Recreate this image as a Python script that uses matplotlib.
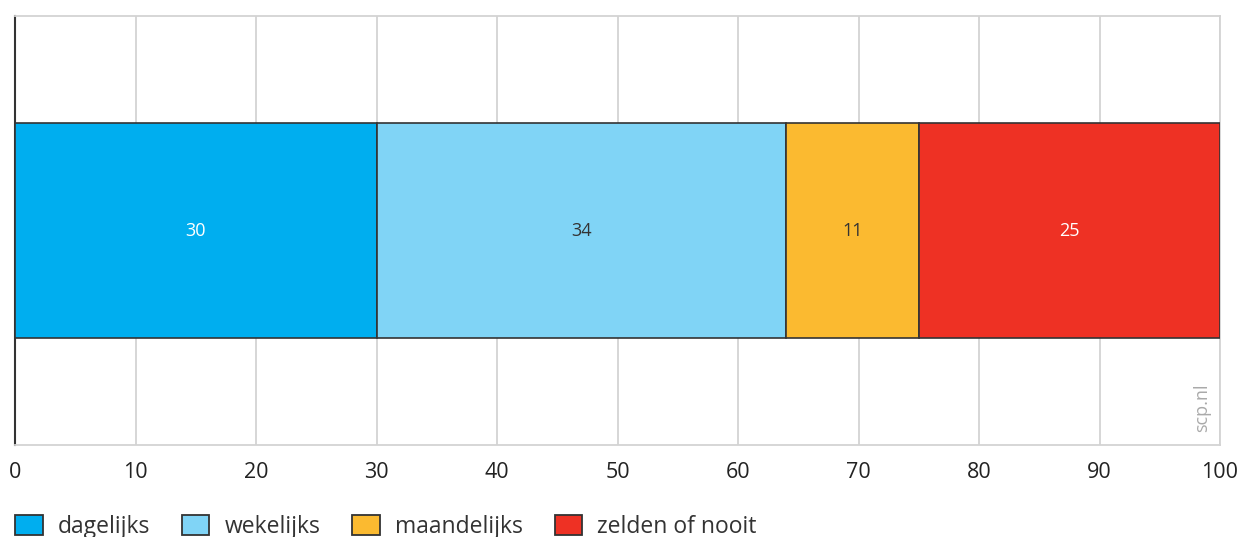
import matplotlib.pyplot as plt
from matplotlib.patches import Patch

categories = ['dagelijks', 'wekelijks', 'maandelijks', 'zelden of nooit']
values = [30, 34, 11, 25]
colors = ['#00AEEF', '#80D4F6', '#FBBA30', '#EE3124']
label_colors = ['white', '#333333', '#333333', 'white']
xticks = [0, 10, 20, 30, 40, 50, 60, 70, 80, 90, 100]

plt.rcParams['font.family'] = ['Open Sans', 'DejaVu Sans']

fig = plt.figure(figsize=(12.37, 5.37), dpi=100)
ax = fig.add_axes([15 / 1237, 1 - 445 / 537, 1205 / 1237, 429 / 537])

# stacked horizontal bar
left = 0
for cat, val, col, lc in zip(categories, values, colors, label_colors):
    ax.barh(0, val, left=left, height=1, color=col, edgecolor='#333333',
            linewidth=1.2, zorder=3)
    ax.text(left + val / 2, 0, str(val), ha='center', va='center',
            color=lc, fontsize=13, zorder=4)
    left += val

ax.set_xlim(0, 100)
ax.set_ylim(-1, 1)
ax.set_xticks(xticks)
ax.set_xticklabels([str(t) for t in xticks], fontsize=15.5, color='#222222')
ax.set_yticks([])
ax.tick_params(axis='x', length=0, pad=12)
ax.grid(axis='x', color='#d3d3d3', linewidth=1.3, zorder=0)

for s in ['top', 'right', 'bottom']:
    ax.spines[s].set_color('#d3d3d3')
    ax.spines[s].set_linewidth(1.3)
ax.spines['left'].set_color('#333333')
ax.spines['left'].set_linewidth(1.5)

ax.text(0.985, 0.03, 'scp.nl', transform=ax.transAxes, rotation=90,
        ha='center', va='bottom', color='#aaaaaa', fontsize=13)

handles = [Patch(facecolor=c, edgecolor='#333333', linewidth=1.3) for c in colors]
fig.legend(handles, categories, loc='center left',
           bbox_to_anchor=(15 / 1237, 10 / 537), borderpad=0, borderaxespad=0,
           ncol=4, frameon=False, fontsize=16.5, handlelength=1.2, handleheight=1.0,
           handletextpad=0.65, columnspacing=1.4, labelcolor='#333333')

fig.savefig('out.png', dpi=100)
